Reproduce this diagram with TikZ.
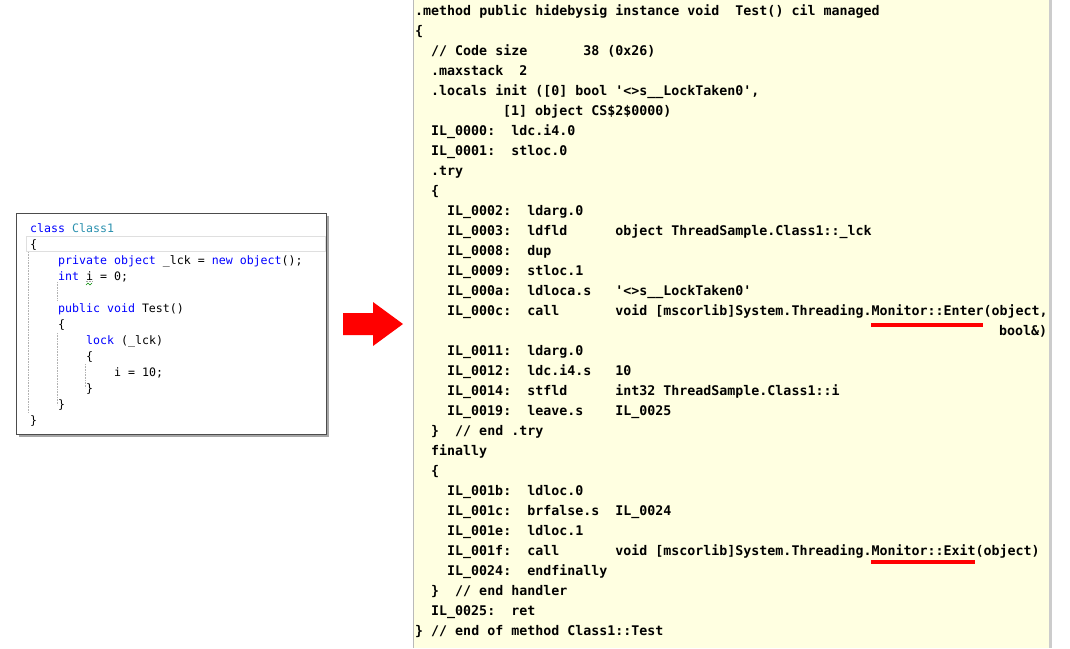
\documentclass[tikz,border=0pt]{standalone}
\usepackage{fontspec}
\newfontfamily\ilfont{DejaVu Sans Mono}
\newfontfamily\csfont{DejaVu Sans Mono}
\definecolor{kwblue}{RGB}{0,0,255}
\definecolor{typeteal}{RGB}{43,145,175}
\definecolor{ilpaper}{RGB}{255,255,225}
\newcommand{\cskw}[1]{\textcolor{kwblue}{#1}}
\newcommand{\cstype}[1]{\textcolor{typeteal}{#1}}

\begin{document}
\begin{tikzpicture}[x=1pt, y=-1pt,
    illine/.style={anchor=base west, inner sep=0pt, font=\ilfont\bfseries\fontsize{13.3}{16}\selectfont},
    csline/.style={anchor=base west, inner sep=0pt, font=\csfont\fontsize{11.6}{14}\selectfont},
    guide/.style={gray!60, densely dotted, line width=0.6pt}]

    \useasboundingbox (0,0) rectangle (1070,648);

    % Source panel
    \fill[black!35] (19,216) rectangle (329,437);
    \draw[fill=white, draw=black!70] (16,213) rectangle (326,434);
    \draw[gray!25] (26,236) rectangle (325,251);

    % Indent guides
    \draw[guide] (28.5,252) -- (28.5,413);
    \draw[guide] (57,282) -- (57,300);
    \draw[guide] (57,333) -- (57,405);
    \draw[guide] (85,364) -- (85,388);

    % Source lines
    \node[csline] at (30,232) (cs1) {\cskw{class} \cstype{Class1}};
    \node[csline] at (30,248) (cs2) {\{};
    \node[csline] at (58,264) (cs3) {\cskw{private} \cskw{object} \_lck = \cskw{new} \cskw{object}();};
    \node[csline] at (58,280) (cs4) {\cskw{int} i = 0;};
    \node[csline] at (58,312) (cs5) {\cskw{public} \cskw{void} Test()};
    \node[csline] at (58,328) (cs6) {\{};
    \node[csline] at (86,344) (cs7) {\cskw{lock} (\_lck)};
    \node[csline] at (86,360) (cs8) {\{};
    \node[csline] at (114,376) (cs9) {i = 10;};
    \node[csline] at (86,392) (cs10) {\}};
    \node[csline] at (58,408) (cs11) {\}};
    \node[csline] at (30,424) (cs12) {\}};

    % Squiggle under i
    \draw[gray!70, densely dotted] (86,281.5) -- (92.5,281.5);
    \draw[green!55!black, line width=0.6pt] (86,285) -- (88,283) -- (90,285) -- (92,283);

    % Red arrow
    \fill[red] (343,313) -- (373,313) -- (373,302) -- (403,324) -- (373,346)
        -- (373,335) -- (343,335) -- cycle;

    % IL panel
    \fill[ilpaper] (413,0) rectangle (1050,648);
    \draw[gray!55, line width=1pt] (413,0) -- (413,648);
    \draw[gray!40, line width=2.5pt] (1050.5,0) -- (1050.5,648);

    % IL lines
    \node[illine] at (415,15) (il1) {.method public hidebysig instance void~~Test() cil managed};
    \node[illine] at (415,35) (il2) {\{};
    \node[illine] at (431,55) (il3) {// Code size~~~~~~~38 (0x26)};
    \node[illine] at (431,75) (il4) {.maxstack~~2};
    \node[illine] at (431,95) (il5) {.locals init ([0] bool '<>s\_\_LockTaken0',};
    \node[illine] at (503,115) (il6) {[1] object CS\$2\$0000)};
    \node[illine] at (431,135) (il7) {IL\_0000:~~ldc.i4.0};
    \node[illine] at (431,155) (il8) {IL\_0001:~~stloc.0};
    \node[illine] at (431,175) (il9) {.try};
    \node[illine] at (431,195) (il10) {\{};
    \node[illine] at (447,215) (il11) {IL\_0002:~~ldarg.0};
    \node[illine] at (447,235) (il12) {IL\_0003:~~ldfld~~~~~~object ThreadSample.Class1::\_lck};
    \node[illine] at (447,255) (il13) {IL\_0008:~~dup};
    \node[illine] at (447,275) (il14) {IL\_0009:~~stloc.1};
    \node[illine] at (447,295) (il15) {IL\_000a:~~ldloca.s~~~'<>s\_\_LockTaken0'};
    \node[illine] at (447,315) (il16) {IL\_000c:~~call~~~~~~~void [mscorlib]System.Threading.Monitor::Enter(object,};
    \node[illine] at (999,335) (il17) {bool\&)};
    \node[illine] at (447,355) (il18) {IL\_0011:~~ldarg.0};
    \node[illine] at (447,375) (il19) {IL\_0012:~~ldc.i4.s~~~10};
    \node[illine] at (447,395) (il20) {IL\_0014:~~stfld~~~~~~int32 ThreadSample.Class1::i};
    \node[illine] at (447,415) (il21) {IL\_0019:~~leave.s~~~~IL\_0025};
    \node[illine] at (431,435) (il22) {\}~~// end .try};
    \node[illine] at (431,455) (il23) {finally};
    \node[illine] at (431,475) (il24) {\{};
    \node[illine] at (447,495) (il25) {IL\_001b:~~ldloc.0};
    \node[illine] at (447,515) (il26) {IL\_001c:~~brfalse.s~~IL\_0024};
    \node[illine] at (447,535) (il27) {IL\_001e:~~ldloc.1};
    \node[illine] at (447,555) (il28) {IL\_001f:~~call~~~~~~~void [mscorlib]System.Threading.Monitor::Exit(object)};
    \node[illine] at (447,575) (il29) {IL\_0024:~~endfinally};
    \node[illine] at (431,595) (il30) {\}~~// end handler};
    \node[illine] at (431,615) (il31) {IL\_0025:~~ret};
    \node[illine] at (415,635) (il32) {\} // end of method Class1::Test};

    % Red underlines
    \draw[red, line width=4pt] (871,325) -- (983,325);
    \draw[red, line width=4pt] (871,562) -- (975,562);
\end{tikzpicture}
\end{document}
